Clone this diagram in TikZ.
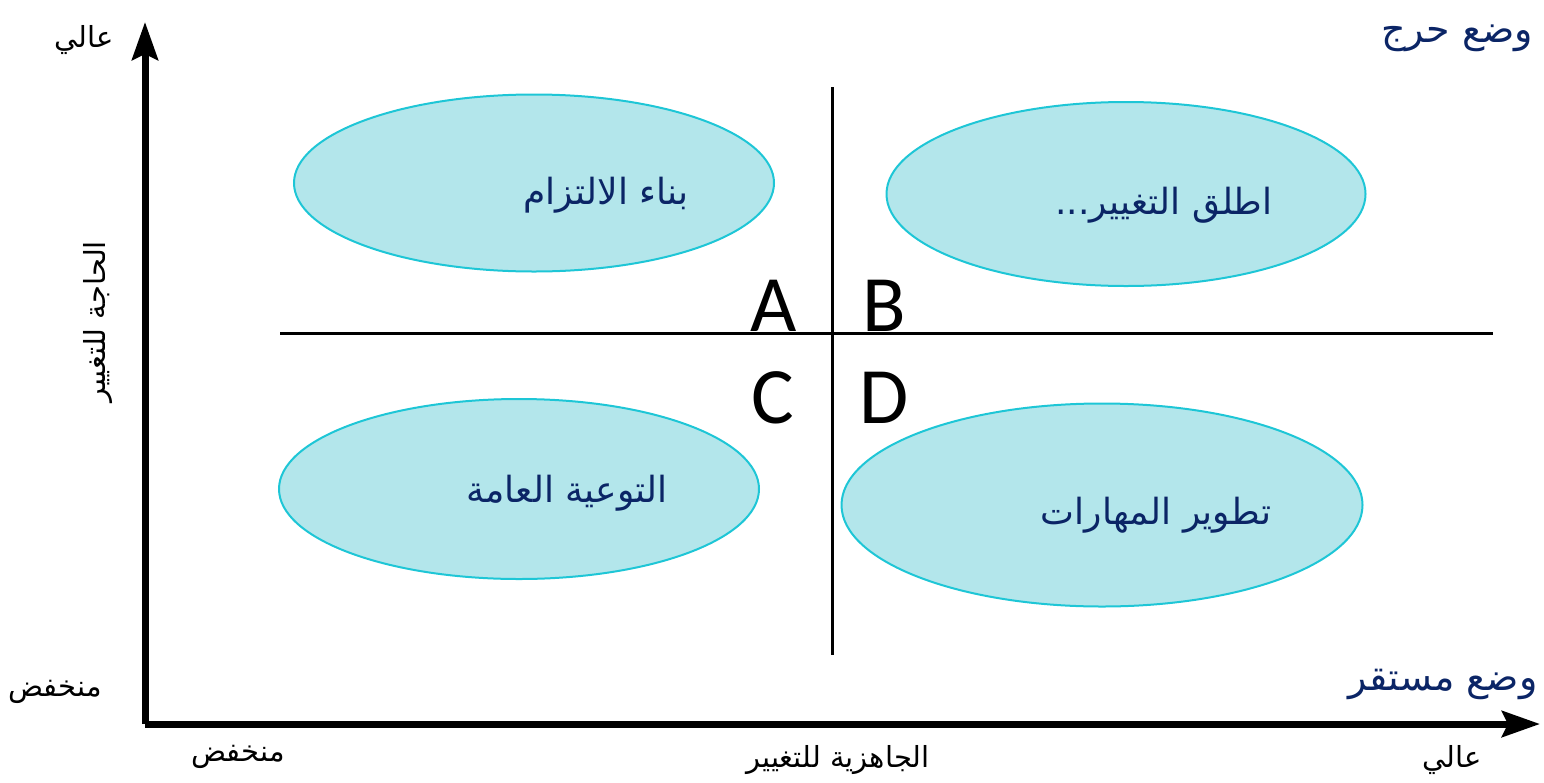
\documentclass[tikz,border=0pt]{standalone}
\usepackage{fontspec}
\usepackage{xcolor}
\usetikzlibrary{shapes.geometric,arrows.meta}
\TeXXeTstate=1
\newfontfamily\arabicfont[Script=Arabic]{DejaVu Sans}
\newfontfamily\latinfont{Carlito}
\definecolor{zonefill}{HTML}{B3E6EB}
\definecolor{zoneline}{HTML}{1EC6D6}
\definecolor{navy}{HTML}{0B2566}
\begin{document}
\begin{tikzpicture}[x=1pt,y=-1pt,
    zone/.style={ellipse, draw=zoneline, line width=2pt, fill=zonefill, inner sep=0pt},
    zonetext/.style={text=navy, font=\arabicfont\fontsize{36}{40}\selectfont},
    status/.style={text=navy, font=\arabicfont\fontsize{38}{43}\selectfont},
    axlabel/.style={font=\arabicfont\fontsize{29}{33}\selectfont},
    quad/.style={font=\latinfont\fontsize{80}{86}\selectfont, inner sep=0pt},
    axis/.style={line width=7pt, -{Stealth[length=38pt,width=26pt,inset=6pt]}}]
  \useasboundingbox (0,0) rectangle (1544,782);
  % zones
  \node[zone, minimum width=480pt, minimum height=177pt] (za) at (534,183) {};
  \node[zone, minimum width=479pt, minimum height=184pt] (zb) at (1126,194) {};
  \node[zone, minimum width=480pt, minimum height=180pt] (zc) at (519,489) {};
  \node[zone, minimum width=521pt, minimum height=203pt] (zd) at (1102,505) {};
  \node[zonetext] (ta) at (606,195) {\beginR بناء الالتزام\endR};
  \node[zonetext] (tb) at (1164,205) {\beginR اطلق التغيير...\endR};
  \node[zonetext] (tc) at (567,493) {\beginR التوعية العامة\endR};
  \node[zonetext] (td) at (1156,515) {\beginR تطوير المهارات\endR};
  % quadrant lines
  \coordinate (hl) at (280,333);
  \coordinate (hr) at (1493,333);
  \coordinate (vt) at (832,87);
  \coordinate (vb) at (832,655);
  \draw[line width=3pt] (hl) -- (hr);
  \draw[line width=3pt] (vt) -- (vb);
  \node[quad] (qa) at (774,306) {A};
  \node[quad] (qb) at (884,306) {B};
  \node[quad] (qc) at (773,398) {C};
  \node[quad] (qd) at (884,398) {D};
  % axes
  \coordinate (o) at (145,724);
  \coordinate (ytop) at (145,22);
  \coordinate (xend) at (1540,724);
  \draw[axis] (o) -- (ytop);
  \draw[axis] (o) -- (xend);
  \node[axlabel] (yhi) at (84,40) {\beginR عالي\endR};
  \node[axlabel] (ylo) at (55,692) {\beginR منخفض\endR};
  \node[axlabel, rotate=90] (yname) at (98,322) {\beginR الحاجة للتغيير\endR};
  \node[axlabel] (xlo) at (238,757) {\beginR منخفض\endR};
  \node[axlabel] (xname) at (838,760) {\beginR الجاهزية للتغيير\endR};
  \node[axlabel] (xhi) at (1452,760) {\beginR عالي\endR};
  \node[status] (crit) at (1457,38) {\beginR وضع حرج\endR};
  \node[status] (stab) at (1443,684) {\beginR وضع مستقر\endR};
\end{tikzpicture}
\end{document}
